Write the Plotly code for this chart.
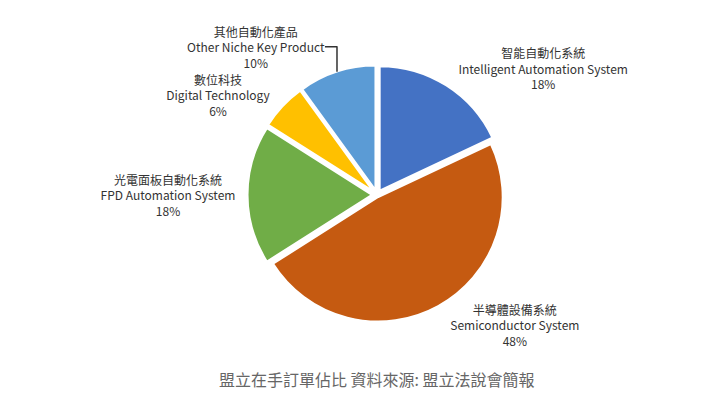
import plotly.graph_objects as go

labels_zh = ["智能自動化系統", "半導體設備系統", "光電面板自動化系統", "數位科技", "其他自動化產品"]
labels_en = ["Intelligent Automation System", "Semiconductor System", "FPD Automation System", "Digital Technology", "Other Niche Key Product"]
values = [18, 48, 18, 6, 10]
colors = ["#4472C4", "#C55A11", "#70AD47", "#FFC000", "#5B9BD5"]

text = [f"{z}<br>{e}<br>{v}%" for z, e, v in zip(labels_zh, labels_en, values)]

fig = go.Figure(go.Pie(
    values=values, labels=labels_en, text=text, textinfo="text",
    textposition="outside", sort=False, direction="clockwise", rotation=0,
    marker=dict(colors=colors, line=dict(color="white", width=2)),
    pull=[0.04, 0.02, 0.04, 0.04, 0.04],
    textfont=dict(size=12, color="#333333", family="Noto Sans CJK TC"),
    hoverinfo="skip", showlegend=False,
    domain=dict(x=[0.15, 0.85], y=[0.14, 0.97]),
))
fig.update_layout(
    width=712, height=400, margin=dict(l=20, r=20, t=10, b=40),
    paper_bgcolor="white",
    font=dict(family="Noto Sans CJK TC"),
    annotations=[dict(text="盟立在手訂單佔比 資料來源: 盟立法說會簡報", x=0.5, y=-0.08,
                      xref="paper", yref="paper", showarrow=False, yanchor="bottom",
                      font=dict(size=16, color="#666666"))],
)
fig.write_html("out.html")
